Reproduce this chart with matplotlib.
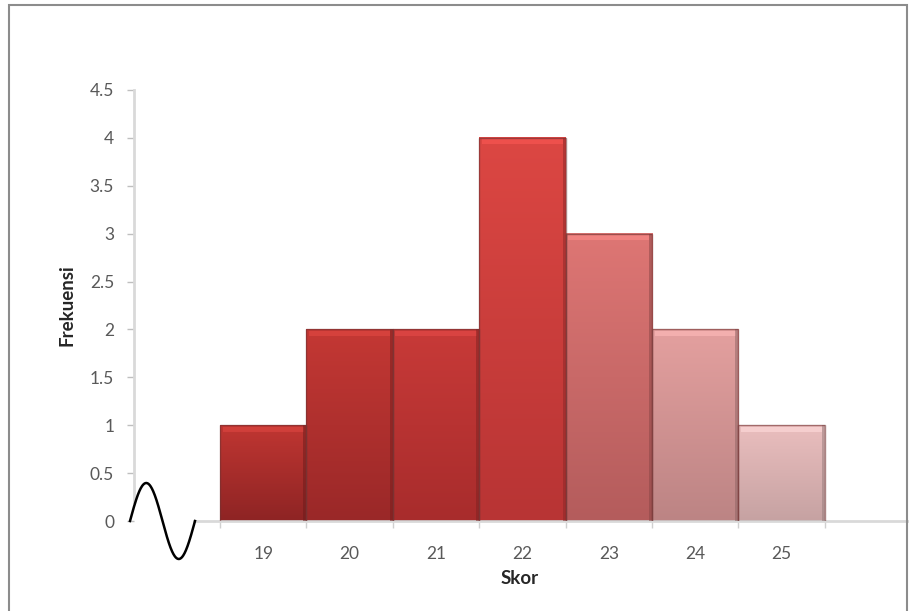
import numpy as np
import matplotlib
matplotlib.use("Agg")
import matplotlib.pyplot as plt
from matplotlib.patches import Rectangle
from matplotlib.colors import to_rgb

plt.rcParams['font.family'] = ['Lato', 'DejaVu Sans']

# Score categories (empty slots on both ends of the category axis)
skor = ["", "19", "20", "21", "22", "23", "24", "25", ""]
frekuensi = [0, 1, 2, 2, 4, 3, 2, 1, 0]

# Top / bottom gradient colours of each bar
warna_atas = ["#ffffff", "#c03632", "#c43834", "#c83a38", "#dc4743",
              "#de7674", "#e4a09f", "#eabebe", "#ffffff"]
warna_bawah = ["#ffffff", "#8e2424", "#9a2828", "#a82c2c", "#b83434",
               "#b45c5c", "#bc8484", "#c6a2a2", "#ffffff"]

W, H, DPI = 909, 611, 100
fig = plt.figure(figsize=(W / DPI, H / DPI), dpi=DPI)
fig.patch.set_facecolor("white")

# axes placement in pixels
x_left, x_right = 133.6, 911.2
y_bottom, y_top = 521, 90
ax = fig.add_axes([x_left / W, 1 - y_bottom / H,
                   (x_right - x_left) / W, (y_bottom - y_top) / H])
ax.set_xlim(-0.5, len(skor) - 0.5)
ax.set_ylim(0, 4.5)
ax.set_facecolor("none")

px_per_unit = (y_bottom - y_top) / 4.5
band = 5 / px_per_unit  # bevel highlight thickness in data units

for i, (v, c_top, c_bot) in enumerate(zip(frekuensi, warna_atas, warna_bawah)):
    if v <= 0:
        continue
    x0, x1 = i - 0.5, i + 0.5
    top = np.array(to_rgb(c_top))
    bot = np.array(to_rgb(c_bot))
    t = np.linspace(0, 1, 200)[:, None]
    grad = (bot * (1 - t) + top * t)[:, None, :]
    ax.imshow(grad, extent=(x0, x1, 0, v), origin="lower",
              aspect="auto", interpolation="bilinear", zorder=2)
    # bevel highlight along the top edge
    hl = np.clip(top * 1.1 + 0.04, 0, 1)
    ax.add_patch(Rectangle((x0 + 0.03, v - band * 1.3), 0.94, band,
                           facecolor=hl, edgecolor="none", alpha=0.6, zorder=3))
    # darker shading on the right edge
    ax.add_patch(Rectangle((x1 - 0.035, 0), 0.035, v,
                           facecolor=bot * 0.75, edgecolor="none", alpha=0.5, zorder=3))
    ax.add_patch(Rectangle((x0, 0), 1, v, facecolor="none",
                           edgecolor=(0.45, 0.2, 0.2, 0.6), linewidth=1.0, zorder=4))

# ticks and labels
ax.set_yticks(np.arange(0, 4.51, 0.5))
ax.set_yticklabels(["0", "0.5", "1", "1.5", "2", "2.5", "3", "3.5", "4", "4.5"])
ax.tick_params(axis="y", length=5, width=1, color="#bfbfbf", pad=9,
               labelsize=12.5, labelcolor="#595959")

ax.set_xticks(np.arange(0.5, len(skor) - 1, 1.0))
ax.set_xticklabels([])
ax.set_xticks(np.arange(len(skor)), minor=True)
ax.set_xticklabels(skor, minor=True)
ax.tick_params(axis="x", which="major", length=5, width=1, color="#d0d0d0",
               direction="out")
ax.tick_params(axis="x", which="minor", length=0, pad=18,
               labelsize=12.5, labelcolor="#595959")

for s in ["top", "right"]:
    ax.spines[s].set_visible(False)
ax.spines["left"].set_color("#d9d9d9")
ax.spines["left"].set_linewidth(2)
ax.spines["left"].set_bounds(0.2, 4.5)
ax.spines["bottom"].set_color("#d9d9d9")
ax.spines["bottom"].set_linewidth(2)
ax.spines["bottom"].set_bounds(0.2, len(skor) - 0.5)

ax.set_ylabel("Frekuensi", fontsize=13.5, fontweight="bold", color="#262626",
              va="center")
ax.yaxis.set_label_coords((67 - x_left) / (x_right - x_left), 0.5)
ax.set_xlabel("Skor", fontsize=13.5, fontweight="bold", color="#262626",
              va="center")
ax.xaxis.set_label_coords((520 - x_left) / (x_right - x_left),
                          -(578 - y_bottom) / (y_bottom - y_top))

# axis break squiggle
sx = np.linspace(130, 195, 200)
sy = 521 - 38 * np.sin((sx - 130) / 65 * 2 * np.pi)
fig.add_artist(plt.Line2D(sx / W, 1 - sy / H, color="black", linewidth=1.8,
                          transform=fig.transFigure, clip_on=False))

# chart frame
fig.add_artist(Rectangle((9 / W, -0.02), 898 / W, 1 - 5 / H + 0.02,
                         transform=fig.transFigure, facecolor="none",
                         edgecolor="#8c8c8c", linewidth=1.5))

fig.savefig("out.png", dpi=DPI)
